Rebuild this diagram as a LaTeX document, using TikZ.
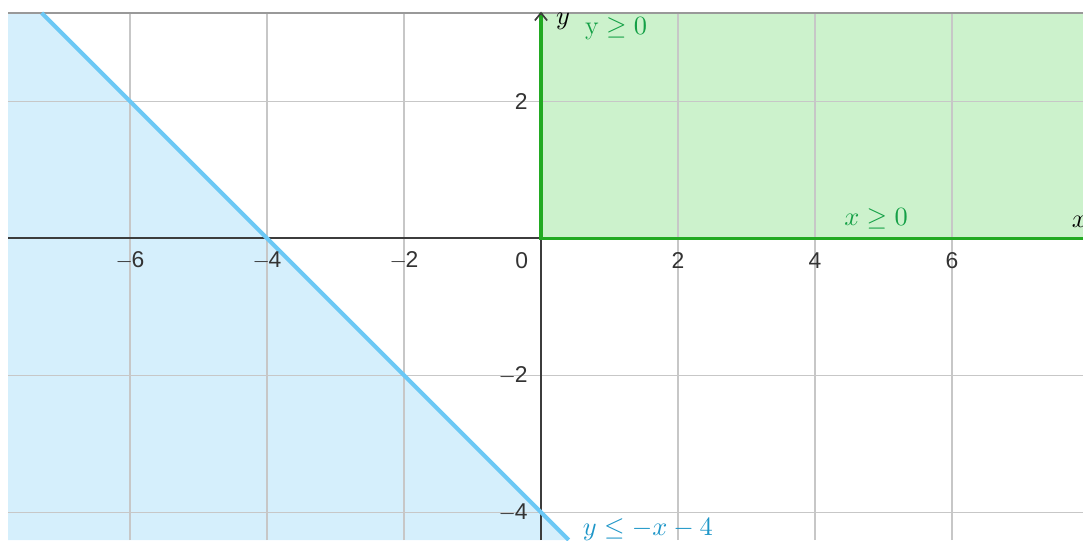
\documentclass[tikz,border=0pt]{standalone}
\usepackage{fontspec}
\setsansfont{Liberation Sans}
\definecolor{bluefill}{RGB}{213,239,252}
\definecolor{blueline}{RGB}{108,200,245}
\definecolor{bluetext}{RGB}{30,150,200}
\definecolor{greenfill}{RGB}{204,242,204}
\definecolor{greenline}{RGB}{34,170,34}
\definecolor{greentext}{RGB}{20,160,70}
\definecolor{axiscol}{RGB}{60,60,60}
\begin{document}
\begin{tikzpicture}[x=1cm,y=1cm,
  gridline/.style={draw=black!22, line width=0.6pt},
  axisline/.style={draw=axiscol, line width=0.8pt},
  ticklab/.style={font=\sffamily\fontsize{9.5}{11}\selectfont, text=black!80, inner sep=0pt},
  mathlab/.style={font=\fontsize{11}{13}\selectfont, inner sep=0pt}]
\useasboundingbox (-7.898,-4.404) rectangle (7.912,3.479);
\coordinate (TL) at (-7.781,3.289);
\coordinate (TR) at (7.912,3.289);
\coordinate (BL) at (-7.781,-4.404);
\coordinate (O) at (0,0);
\coordinate (Ltop) at (-7.289,3.289);
\coordinate (Lbot) at (0.404,-4.404);
% fills
\fill[bluefill] (TL) -- (Ltop) -- (Lbot) -- (BL) -- cycle;
\fill[greenfill] (O) rectangle (TR);
% grid
\foreach \x in {-6,-4,-2,2,4,6} \draw[gridline] (\x,-4.404) -- (\x,3.289);
\foreach \y in {2,-2,-4} \draw[gridline] (-7.781,\y) -- (7.912,\y);
\draw[draw=black!40, line width=0.8pt] (TL) -- (TR);
% axes
\coordinate (XL) at (-7.781,0);
\coordinate (XR) at (7.912,0);
\coordinate (YB) at (0,-4.404);
\coordinate (YT) at (0,3.289);
\draw[axisline] (XL) -- (XR);
\draw[axisline] (YB) -- (YT);
% green boundaries
\draw[draw=greenline, line width=1.3pt] (YT) -- (O) -- (XR);
\draw[axisline, line width=0.7pt] (-0.09,3.18) -- (YT) -- (0.09,3.18);
% blue boundary
\draw[draw=blueline, line width=1.7pt] (Ltop) -- (Lbot);
% tick labels
\foreach \x in {-6,-4,-2} \node[ticklab] (tx\x) at (\x,-0.33) {$-$\kern-0.5pt\the\numexpr-\x\relax};
\foreach \x in {2,4,6} \node[ticklab] (tx\x) at (\x,-0.33) {\x};
\node[ticklab] (t0) at (-0.28,-0.32) {0};
\node[ticklab, anchor=east] (ty2) at (-0.19,2) {2};
\node[ticklab, anchor=east] (tym2) at (-0.19,-2) {$-$\kern-0.5pt2};
\node[ticklab, anchor=east] (tym4) at (-0.19,-4) {$-$\kern-0.5pt4};
% axis names
\node[mathlab] (ylab) at (0.32,3.16) {$y$};
\node[mathlab] (xlab) at (7.86,0.24) {$x$};
% inequality labels
\node[mathlab, text=greentext] (l1) at (1.095,3.055) {$\mathrm{y}\geq 0$};
\node[mathlab, text=greentext] (l2) at (4.89,0.28) {$x\geq 0$};
\node[mathlab, text=bluetext] (l3) at (1.56,-4.25) {$y\leq -x-4$};
\end{tikzpicture}
\end{document}
